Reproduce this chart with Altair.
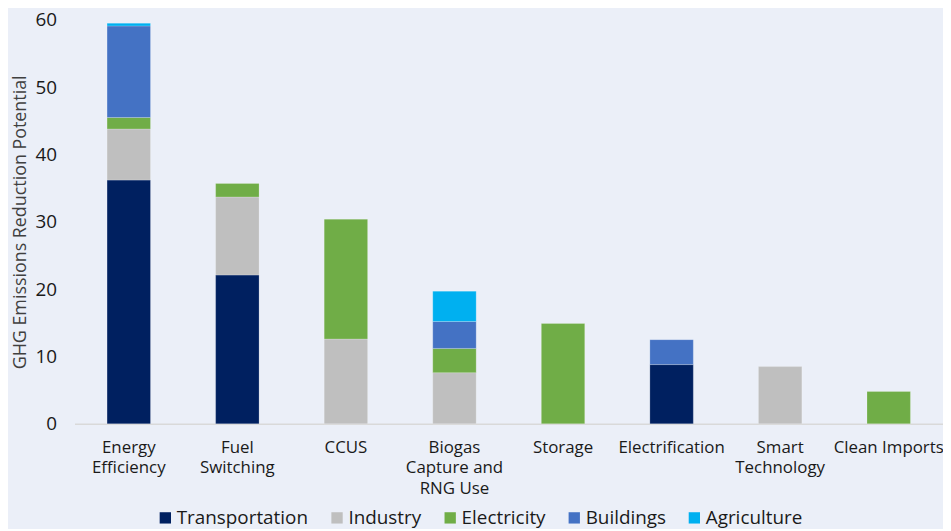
import altair as alt
import pandas as pd

categories = ["Energy Efficiency", "Fuel Switching", "CCUS", "Biogas Capture and RNG Use",
              "Storage", "Electrification", "Smart Technology", "Clean Imports"]
label_lines = [["Energy", "Efficiency"], ["Fuel", "Switching"], ["CCUS"],
               ["Biogas", "Capture and", "RNG Use"], ["Storage"], ["Electrification"],
               ["Smart", "Technology"], ["Clean Imports"]]

series = ["Transportation", "Industry", "Electricity", "Buildings", "Agriculture"]
colors = ["#002060", "#BFBFBF", "#70AD47", "#4472C4", "#00B0F0"]

transportation = [36.2, 22.1, 0, 0, 0, 8.8, 0, 0]
industry = [7.6, 11.6, 12.6, 7.6, 0, 0, 8.5, 0]
electricity = [1.7, 2.0, 17.8, 3.6, 14.9, 0, 0, 4.8]
buildings = [13.6, 0, 0, 4.0, 0, 3.7, 0, 0]
agriculture = [0.4, 0, 0, 4.5, 0, 0, 0, 0]

values = [transportation, industry, electricity, buildings, agriculture]
rows = []
for si, (s, vals) in enumerate(zip(series, values)):
    for c, v in zip(categories, vals):
        if v > 0:
            rows.append({"category": c, "sector": s, "value": v, "order": si})
df = pd.DataFrame(rows)

label_expr = ""
for c, lines in zip(categories, label_lines):
    arr = "[" + ",".join("'" + l + "'" for l in lines) + "]"
    label_expr += f"datum.label == '{c}' ? {arr} : "
label_expr += "datum.label"

FONT = "Open Sans"
TXT = "#1a1a1a"

chart = alt.Chart(df).mark_bar(stroke="#ffffff", strokeWidth=0.6, strokeOpacity=0.35).encode(
    x=alt.X("category:N", sort=categories, title=None,
            scale=alt.Scale(paddingInner=0.6, paddingOuter=0.3),
            axis=alt.Axis(labelAngle=0, labelExpr=label_expr, labelFont=FONT, labelFontSize=17,
                          labelColor=TXT, labelLineHeight=20.5, labelPadding=16, ticks=False,
                          domainColor="#D9D9D9", domainWidth=1.5, labelBaseline="top")),
    y=alt.Y("value:Q", title="GHG Emissions Reduction Potential",
            scale=alt.Scale(domain=[0, 60], nice=False),
            axis=alt.Axis(values=[0, 10, 20, 30, 40, 50, 60], grid=False, domain=False, ticks=False,
                          labelFont=FONT, labelFontSize=19, labelColor=TXT, labelPadding=18,
                          titleFont=FONT, titleFontSize=18, titleFontWeight="normal",
                          titleColor="#404040", titlePadding=6)),
    color=alt.Color("sector:N", sort=series,
                    scale=alt.Scale(domain=series, range=colors),
                    legend=alt.Legend(title=None, orient="none", direction="horizontal",
                                      legendX=82, legendY=492, symbolType="square",
                                      symbolSize=130, symbolStrokeWidth=0,
                                      labelFont=FONT, labelFontSize=19, labelColor=TXT,
                                      labelOffset=2, columnPadding=19, padding=0)),
    order=alt.Order("order:Q", sort="ascending"),
).properties(
    width=875, height=407,
    background="#EBEFF8",
    padding={"left": 67, "top": 10, "right": 0, "bottom": 104},
    autosize=alt.AutoSizeParams(type="none"),
).configure_view(stroke=None)

chart.save("out.html", embed_options={"renderer": "svg", "actions": False})
